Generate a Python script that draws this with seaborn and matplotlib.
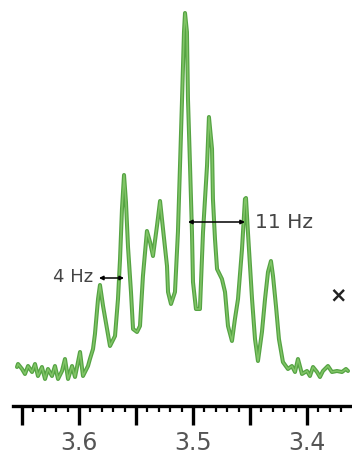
import numpy as np
import pandas as pd
import matplotlib
matplotlib.use("Agg")
import matplotlib.pyplot as plt
from matplotlib.ticker import MultipleLocator, FuncFormatter
import seaborn as sns

# 1H NMR multiplet, chemical shift (ppm) and intensity (a.u.)
shift_ppm = [
    3.6544, 3.6535, 3.6500, 3.6474, 3.6447, 3.6412, 3.6386, 3.6360, 3.6325, 3.6298,
    3.6272, 3.6237, 3.6211, 3.6184, 3.6149, 3.6123, 3.6096, 3.6061, 3.6035, 3.5991,
    3.5965, 3.5921, 3.5904, 3.5877, 3.5860, 3.5833, 3.5816, 3.5789, 3.5754, 3.5728,
    3.5684, 3.5658, 3.5640, 3.5623, 3.5605, 3.5588, 3.5570, 3.5544, 3.5526, 3.5491,
    3.5465, 3.5439, 3.5404, 3.5377, 3.5351, 3.5316, 3.5289, 3.5263, 3.5228, 3.5219,
    3.5193, 3.5158, 3.5132, 3.5114, 3.5096, 3.5079, 3.5070, 3.5053, 3.5044, 3.5026,
    3.5009, 3.5000, 3.4974, 3.4939, 3.4912, 3.4877, 3.4860, 3.4833, 3.4825, 3.4807,
    3.4789, 3.4746, 3.4719, 3.4693, 3.4658, 3.4632, 3.4605, 3.4570, 3.4544, 3.4535,
    3.4518, 3.4482, 3.4456, 3.4430, 3.4395, 3.4368, 3.4342, 3.4316, 3.4298, 3.4272,
    3.4246, 3.4211, 3.4167, 3.4132, 3.4105, 3.4079, 3.4044, 3.4000, 3.3974, 3.3947,
    3.3912, 3.3886, 3.3860, 3.3816, 3.3781, 3.3737, 3.3693, 3.3658, 3.3640,
]
intensity = [
    5, 8, 3, -2, 6, 0, 8, -4, 5, -7,
    3, -4, 6, -7, 1, 13, -7, 6, -5, 20,
    -4, 6, 13, 23, 38, 73, 87, 66, 43, 26,
    36, 73, 113, 163, 197, 170, 125, 80, 43, 40,
    46, 96, 141, 130, 116, 146, 171, 143, 106, 80,
    68, 80, 140, 206, 273, 340, 359, 340, 273, 206,
    140, 90, 63, 63, 140, 206, 255, 223, 173, 133,
    103, 93, 80, 46, 31, 53, 73, 123, 173, 174,
    140, 73, 33, 11, 40, 73, 100, 111, 96, 66,
    33, 10, 3, 6, 0, 13, -2, 1, -4, 5,
    0, -5, 1, 6, 0, 1, 0, 3, 1,
]

# coupling-constant markers: left ppm, right ppm, height
coupling_labels = ["4 Hz", "11 Hz"]
coupling_from = [3.5825, 3.5044]
coupling_to = [3.5605, 3.4544]
coupling_height = [94, 150]

tick_labels = {3.6: "3.6", 3.5: "3.5", 3.4: "3.4"}

spectrum = pd.DataFrame({"ppm": shift_ppm, "intensity": intensity})

sns.set_style("white")
plt.rcParams["font.family"] = ["DejaVu Sans"]

fig = plt.figure(figsize=(3.52, 4.64), dpi=100)
ax = fig.add_axes([13 / 352, 57 / 464, 1 - 13 / 352, 1 - 57 / 464 - 5 / 464])

sns.lineplot(data=spectrum, x="ppm", y="intensity", ax=ax, sort=False,
             color="#55a343", linewidth=2.9, estimator=None)
sns.lineplot(data=spectrum, x="ppm", y="intensity", ax=ax, sort=False,
             color="#80c466", linewidth=1.1, estimator=None)

ax.set_xlim(3.6579, 3.3605)
ax.set_ylim(-34, 368)
ax.set_xlabel("")
ax.set_ylabel("")
ax.set_yticks([])

for side in ("left", "right", "top"):
    ax.spines[side].set_visible(False)
ax.spines["bottom"].set_linewidth(2.4)
ax.spines["bottom"].set_color("black")

ax.xaxis.set_major_locator(MultipleLocator(0.05))
ax.xaxis.set_minor_locator(MultipleLocator(0.01))
ax.xaxis.set_major_formatter(
    FuncFormatter(lambda v, pos: tick_labels.get(round(v, 2), "")))
ax.tick_params(axis="x", which="major", length=14, width=2.4, color="black",
               labelsize=17, labelcolor="#555555", pad=3, bottom=True)
ax.tick_params(axis="x", which="minor", length=4.5, width=1.6, color="black",
               bottom=True)

# coupling arrows and labels
for x0, x1, h in zip(coupling_from, coupling_to, coupling_height):
    ax.annotate("", xy=(x0, h), xytext=(x1, h),
                arrowprops=dict(arrowstyle="<|-|>", color="black", lw=1.1,
                                mutation_scale=6, shrinkA=0, shrinkB=0))
ax.text(3.5880, 96, coupling_labels[0], ha="right", va="center", fontsize=13,
        color="#444444")
ax.text(3.4456, 150, coupling_labels[1], ha="left", va="center", fontsize=14.5,
        color="#444444")
ax.text(3.3728, 78, "×", ha="center", va="center", fontsize=15,
        fontweight="bold", color="#222222")

fig.savefig("out.png", dpi=100)
